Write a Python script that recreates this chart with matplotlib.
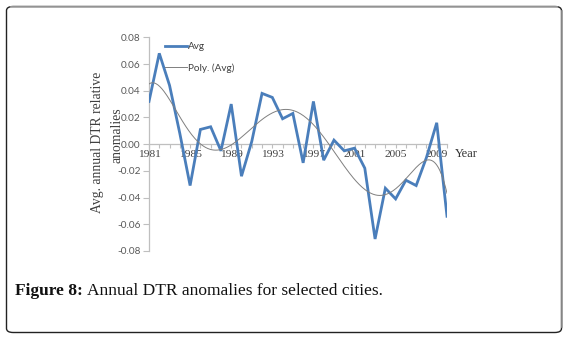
import numpy as np
import matplotlib
matplotlib.use("Agg")
import matplotlib.pyplot as plt
from matplotlib.patches import FancyBboxPatch
from matplotlib.lines import Line2D

# Annual DTR relative anomalies, 1981-2010
years = list(range(1981, 2011))
avg = [0.032, 0.068, 0.044, 0.008, -0.031, 0.011, 0.013, -0.005, 0.030, -0.024,
       0.002, 0.038, 0.035, 0.019, 0.023, -0.014, 0.032, -0.012, 0.003, -0.005,
       -0.003, -0.018, -0.071, -0.033, -0.041, -0.027, -0.031, -0.010, 0.016, -0.054]
tick_years = [1981, 1985, 1989, 1993, 1997, 2001, 2005, 2009]
y_ticks = [-0.08, -0.06, -0.04, -0.02, 0.00, 0.02, 0.04, 0.06, 0.08]

W, H = 568, 338
fig = plt.figure(figsize=(W / 100, H / 100), dpi=100)
fig.patch.set_facecolor("white")


def fx(px):
    return px / W


def fy(py):
    return 1 - py / H


# panel frame: dark outline, lighter top and right edges
frame = FancyBboxPatch((fx(6.5), fy(332.5)), fx(561.5) - fx(6.5), fy(6.5) - fy(332.5),
                       boxstyle="round,pad=0,rounding_size=0.012",
                       transform=fig.transFigure, facecolor="none",
                       edgecolor="#222222", linewidth=1.0, zorder=0)
fig.add_artist(frame)
fig.add_artist(Line2D([fx(11), fx(557)], [fy(6.5), fy(6.5)],
                      transform=fig.transFigure, color="#aaaaaa", lw=1.2))
fig.add_artist(Line2D([fx(561.5), fx(561.5)], [fy(11), fy(327)],
                      transform=fig.transFigure, color="#999999", lw=1.2))

left, right = fx(149), fx(447)
top, bottom = fy(37.3), fy(251)
ax = fig.add_axes([left, bottom, right - left, top - bottom])

x = np.arange(1, len(years) + 1)
coef = np.polyfit(x, avg, 6)
xs = np.linspace(1, len(years), 300)
trend = np.polyval(coef, xs)

ax.plot(x, avg, color="#4a7ebb", lw=2.0, solid_joinstyle="miter", label="Avg", zorder=3)
ax.plot(xs, trend, color="#7f7f7f", lw=0.7, label="Poly. (Avg)", zorder=4)

ax.set_xlim(1, len(years))
ax.set_ylim(-0.08, 0.08)
ax.set_facecolor("none")

for s in ["top", "right"]:
    ax.spines[s].set_visible(False)
ax.spines["bottom"].set_position(("data", 0))
ax.spines["bottom"].set_color("#bfbfbf")
ax.spines["left"].set_color("#bfbfbf")
ax.spines["bottom"].set_linewidth(0.9)
ax.spines["left"].set_linewidth(0.9)

ax.set_yticks(y_ticks)
ax.set_yticklabels([f"{v:.2f}" for v in y_ticks], family="Lato", fontsize=7.2, color="#595959")
ax.tick_params(axis="y", direction="out", length=4, width=0.8, color="#bfbfbf", pad=2)

ax.set_xticks(x, minor=True)
ax.set_xticks([years.index(t) + 1 for t in tick_years])
ax.set_xticklabels([str(t) for t in tick_years], family="Liberation Serif",
                   fontsize=8.2, color="#404040")
ax.tick_params(axis="x", which="both", direction="out", length=3, width=0.8,
               color="#bfbfbf", pad=1)

leg = ax.legend(loc="upper left", bbox_to_anchor=((156 - 149) / (447 - 149), 1.02),
                frameon=False, handlelength=2.2, handletextpad=0.1,
                labelspacing=1.2, prop={"family": "Lato", "size": 7.2})
for t in leg.get_texts():
    t.set_color("#404040")

fig.text(fx(455), fy(154), "Year", family="Liberation Serif", fontsize=9,
         color="#333333", va="center", ha="left")
fig.text(fx(97), fy(142), "Avg. annual DTR relative", family="Liberation Serif",
         fontsize=9.8, color="#404040", rotation=90, va="center", ha="center")
fig.text(fx(117), fy(135), "anomalies", family="Liberation Serif",
         fontsize=9.8, color="#404040", rotation=90, va="center", ha="center")

# caption: bold label followed by the description
lab = fig.text(fx(15), fy(291), "Figure 8:", family="Liberation Serif", fontsize=12.5,
               fontweight="bold", color="#111111", va="center", ha="left")
renderer = fig.canvas.get_renderer()
bb = lab.get_window_extent(renderer=renderer)
fig.text((bb.x1 + 4) / W, fy(291), "Annual DTR anomalies for selected cities.",
         family="Liberation Serif", fontsize=12.5, color="#111111", va="center", ha="left")

fig.savefig("out.png", dpi=100, facecolor="white")
